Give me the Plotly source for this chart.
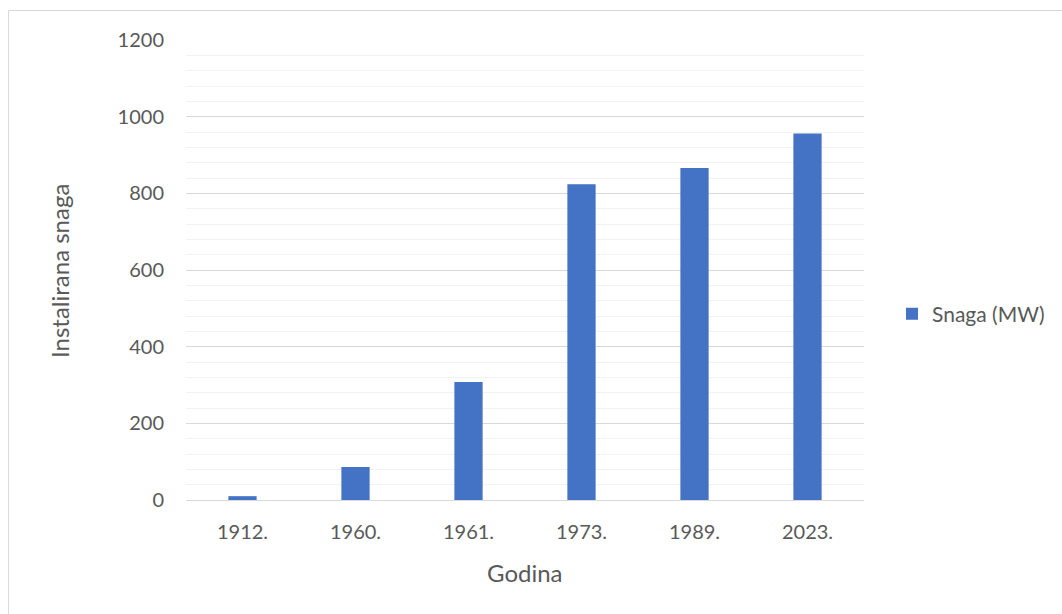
import plotly.graph_objects as go

categories = ["1912.", "1960.", "1961.", "1973.", "1989.", "2023."]
values = [10, 86, 308, 824, 866, 956]
series_name = "Snaga (MW)"
y_ticks = [0, 200, 400, 600, 800, 1000, 1200]
x_title = "Godina"
y_title = "Instalirana snaga"

W, H = 1062, 614
ML, MR, MT, MB = 186, 198, 40, 114
PW, PH = W - ML - MR, H - MT - MB

def px_x(p):
    return (p - ML) / PW

def px_y(p):
    return 1 - (p - MT) / PH

TEXT = "#595959"
FONT = "Lato"

fig = go.Figure()
fig.add_trace(go.Bar(
    x=categories, y=values, name=series_name,
    marker=dict(color="#4472C4", line=dict(width=0)),
))

fig.update_layout(
    width=W, height=H,
    margin=dict(l=ML, r=MR, t=MT, b=MB, pad=0),
    paper_bgcolor="white", plot_bgcolor="white",
    bargap=0.75,
    font=dict(family=FONT, color=TEXT, size=20),
    showlegend=True,
    legend=dict(
        x=px_x(892), y=px_y(314), xanchor="left", yanchor="middle",
        font=dict(family=FONT, size=21, color=TEXT),
        bgcolor="rgba(0,0,0,0)",
    ),
    xaxis=dict(
        showgrid=False, showline=True, linecolor="#d9d9d9", linewidth=1,
        ticks="", tickfont=dict(size=20, color=TEXT, family=FONT),
        ticklabelstandoff=14,
    ),
    yaxis=dict(
        range=[0, 1200], tickvals=y_ticks, showgrid=True,
        gridcolor="#d9d9d9", gridwidth=1, zeroline=False,
        ticks="", tickfont=dict(size=20, color=TEXT, family=FONT),
        ticklabelstandoff=21,
        minor=dict(dtick=40, tick0=0, showgrid=True, gridcolor="#f2f2f2", gridwidth=1),
    ),
    annotations=[
        dict(text=x_title, xref="paper", yref="paper", x=px_x(525), y=px_y(572),
             xanchor="center", yanchor="middle", showarrow=False,
             font=dict(family=FONT, size=24, color=TEXT)),
        dict(text=y_title, xref="paper", yref="paper", x=px_x(59), y=px_y(271),
             xanchor="center", yanchor="middle", showarrow=False, textangle=-90,
             font=dict(family=FONT, size=24, color=TEXT)),
    ],
    shapes=[
        dict(type="rect", xref="paper", yref="paper",
             x0=px_x(8.5), x1=px_x(1080), y0=px_y(630), y1=px_y(10.5),
             line=dict(color="#d9d9d9", width=1), fillcolor="rgba(0,0,0,0)", layer="below"),
    ],
)

fig.write_html("out.html", config={"displayModeBar": False},
               post_script="document.body.style.margin='0';")
